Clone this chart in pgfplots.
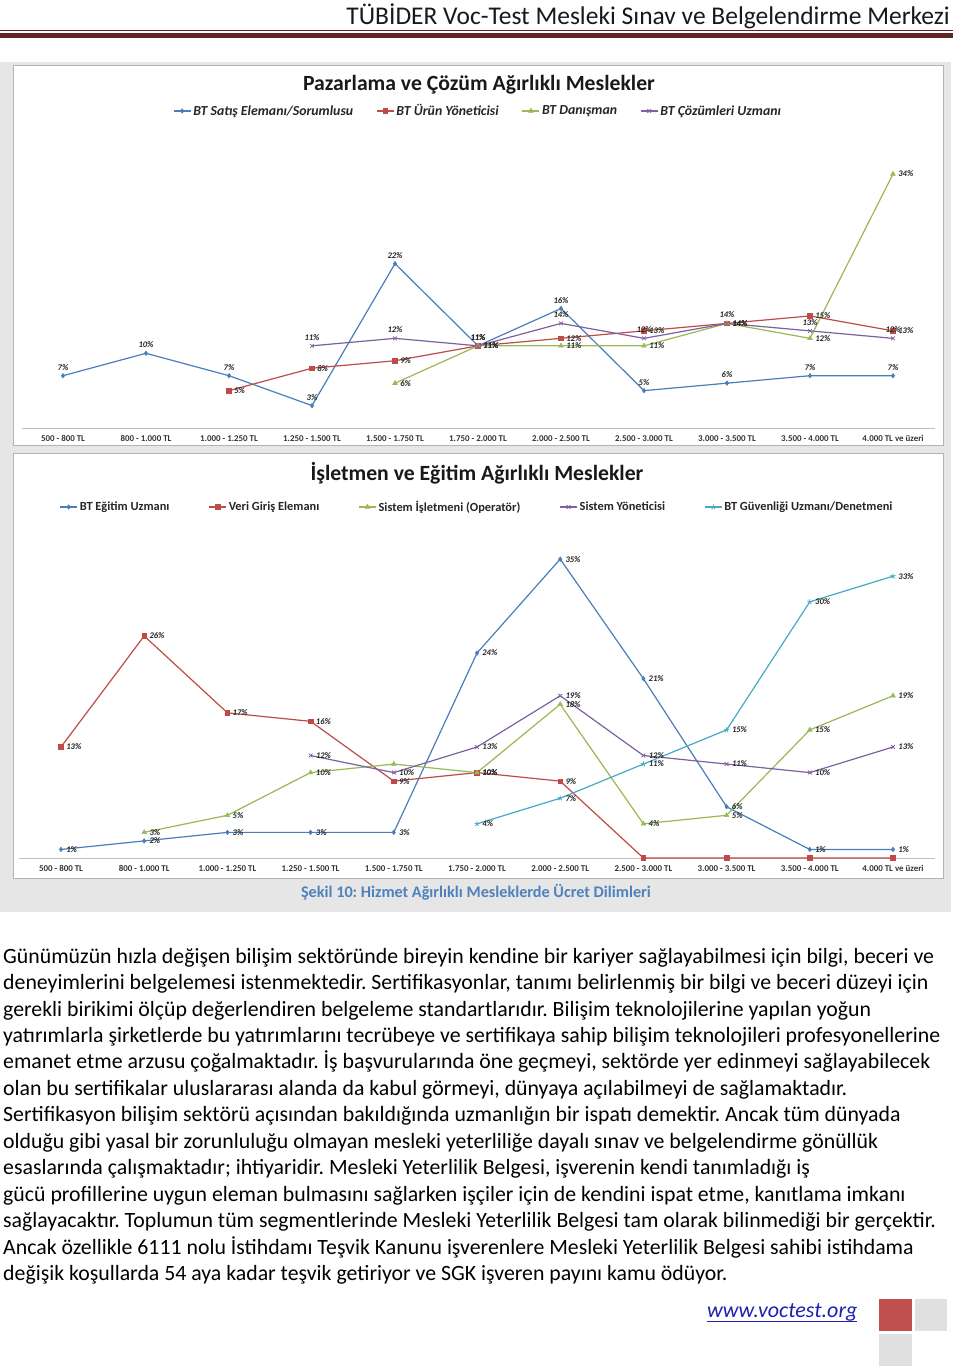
\documentclass[border=0pt]{standalone}
\usepackage{fontspec}
\setmainfont{Carlito}
\usepackage{pgfplots}
\pgfplotsset{compat=1.18}
\frenchspacing
\definecolor{cBlue}{HTML}{4A7EBB}
\definecolor{cRed}{HTML}{BE4B48}
\definecolor{cGreen}{HTML}{98B954}
\definecolor{cPurple}{HTML}{7D60A0}
\definecolor{cCyan}{HTML}{46AAC5}
\definecolor{hdr}{HTML}{632523}
\definecolor{panel}{HTML}{E6E6E6}
\definecolor{framec}{HTML}{B3B3B3}
\definecolor{capblue}{HTML}{4F81BD}
\definecolor{linkc}{HTML}{2020B0}
\definecolor{sqred}{HTML}{C0504D}
\definecolor{sqgray}{HTML}{E0E0E0}
\newcommand\fs[1]{\fontsize{#1}{#1}\selectfont}
\pgfplotsset{
  /pgf/number format/assume math mode=true,
  lblabove/.style={point meta=y, nodes near coords={\pgfmathprintnumber{\pgfplotspointmeta}\%},
    every node near coord/.append style={font=\fs{8.6}\bfseries\itshape, text=black!85, anchor=south, inner sep=1pt, yshift=4pt}},
  lblright/.style={point meta=y, nodes near coords={\pgfmathprintnumber{\pgfplotspointmeta}\%},
    every node near coord/.append style={font=\fs{8.6}\bfseries\itshape, text=black!85, anchor=west, inner sep=1pt, xshift=4pt}},
  lblrightsym/.style={point meta=explicit symbolic, nodes near coords={\pgfplotspointmeta},
    every node near coord/.append style={font=\fs{8.6}\bfseries\itshape, text=black!85, anchor=west, inner sep=1pt, xshift=4pt}},
  sBlue/.style={color=cBlue, line width=1.2pt, mark=diamond*, mark size=2.2pt, mark options={solid, line width=0.6pt}},
  sRed/.style={color=cRed, line width=1.2pt, mark=square*, mark size=2.3pt, mark options={solid, line width=0.6pt}},
  sGreen/.style={color=cGreen, line width=1.2pt, mark=triangle*, mark size=2.6pt, mark options={solid, line width=0.6pt}},
  sPurple/.style={color=cPurple, line width=1.2pt, mark=x, mark size=2.6pt, mark options={solid, line width=0.8pt}},
  sCyan/.style={color=cCyan, line width=1.2pt, mark=star, mark size=2.6pt, mark options={solid, line width=0.8pt}},
  salary/.style={
    anchor=south west, scale only axis, xmin=-0.5, xmax=10.5, ymin=0,
    axis x line*=bottom, axis y line=none,
    x axis line style={-, draw=black!25, line width=0.9pt},
    xtick={0,...,10},
    xticklabels={500 - 800 TL, 800 - 1.000 TL, 1.000 - 1.250 TL, 1.250 - 1.500 TL, 1.500 - 1.750 TL, 1.750 - 2.000 TL, 2.000 - 2.500 TL, 2.500 - 3.000 TL, 3.000 - 3.500 TL, 3.500 - 4.000 TL, 4.000 TL ve üzeri},
    major tick length=0pt,
    xticklabel style={font=\fs{8.9}\bfseries, text=black!80, yshift=-4pt},
    clip=false, legend columns=-1,
  },
}
\begin{document}
\begin{tikzpicture}
\useasboundingbox (0pt,0pt) rectangle (960pt,1369pt);
\begin{scope}[x=1pt,y=-1pt,yshift=1369pt]
  \fill[white] (0,0) rectangle (960,1369);
  \node[anchor=east, inner sep=0, text=black!90] at (950,16) {\fs{25.5}TÜBİDER Voc-Test Mesleki Sınav ve Belgelendirme Merkezi};
  \fill[hdr] (0,30.3) rectangle (953,31.5);
  \fill[hdr] (0,33.3) rectangle (953,38.3);
  \fill[panel] (0,62) rectangle (951,912);
  \filldraw[fill=white, draw=framec, line width=1pt] (13,66) rectangle (943,446);
  \filldraw[fill=white, draw=framec, line width=1pt] (13,454) rectangle (943,879);
  \node[font=\fs{21.7}\bfseries, text=black!90] at (479,85) {Pazarlama ve Çözüm Ağırlıklı Meslekler};
  \node[font=\fs{21.7}\bfseries, text=black!90] at (477,473) {İşletmen ve Eğitim Ağırlıklı Meslekler};
  \node[font=\fs{16.2}\bfseries, text=capblue] at (476,892) {Şekil 10: Hizmet Ağırlıklı Mesleklerde Ücret Dilimleri};
  \begin{scope}[every node/.style={anchor=base west, inner sep=0, font=\fs{21.8}, text=black}]
    \node at (3,964) {Günümüzün hızla değişen bilişim sektöründe bireyin kendine bir kariyer sağlayabilmesi için bilgi, beceri ve};
    \node at (3,990) {deneyimlerini belgelemesi istenmektedir. Sertifikasyonlar, tanımı belirlenmiş bir bilgi ve beceri düzeyi için};
    \node at (3,1017) {gerekli birikimi ölçüp değerlendiren belgeleme standartlarıdır. Bilişim teknolojilerine yapılan yoğun};
    \node at (3,1043) {yatırımlarla şirketlerde bu yatırımlarını tecrübeye ve sertifikaya sahip bilişim teknolojileri profesyonellerine};
    \node at (3,1069) {emanet etme arzusu çoğalmaktadır. İş başvurularında öne geçmeyi, sektörde yer edinmeyi sağlayabilecek};
    \node at (3,1096) {olan bu sertifikalar uluslararası alanda da kabul görmeyi, dünyaya açılabilmeyi de sağlamaktadır.};
    \node at (3,1122) {Sertifikasyon bilişim sektörü açısından bakıldığında uzmanlığın bir ispatı demektir. Ancak tüm dünyada};
    \node at (3,1149) {olduğu gibi yasal bir zorunluluğu olmayan mesleki yeterliliğe dayalı sınav ve belgelendirme gönüllük};
    \node at (3,1175) {esaslarında çalışmaktadır; ihtiyaridir. Mesleki Yeterlilik Belgesi, işverenin kendi tanımladığı iş};
    \node at (3,1202) {gücü profillerine uygun eleman bulmasını sağlarken işçiler için de kendini ispat etme, kanıtlama imkanı};
    \node at (3,1228) {sağlayacaktır. Toplumun tüm segmentlerinde Mesleki Yeterlilik Belgesi tam olarak bilinmediği bir gerçektir.};
    \node at (3,1255) {Ancak özellikle 6111 nolu İstihdamı Teşvik Kanunu işverenlere Mesleki Yeterlilik Belgesi sahibi istihdama};
    \node at (3,1281) {değişik koşullarda 54 aya kadar teşvik getiriyor ve SGK işveren payını kamu ödüyor.};
  \end{scope}
  \node[anchor=base west, inner sep=0, font=\fs{22}\itshape, text=linkc] at (707,1318) {www.voctest.org};
  \draw[linkc, line width=0.9pt] (707,1321) -- (857,1321);
  \fill[sqred] (879,1299) rectangle (912,1331);
  \fill[sqgray] (915,1299) rectangle (947,1331);
  \fill[sqgray] (879,1334) rectangle (912,1366);
\end{scope}

% Chart 1
\begin{axis}[salary,
  at={(21.5pt,941pt)}, width=913pt, height=298.8pt, ymax=40,
  legend style={draw=none, fill=none, at={(0.5,1.061)}, anchor=center,
    font=\fs{13.8}\bfseries\itshape, text=black!85,
    /tikz/every even column/.append style={column sep=21pt}},
]
\addplot[sBlue, lblabove] coordinates {(0,7) (1,10) (2,7) (3,3) (4,22) (5,11) (6,16) (7,5) (8,6) (9,7) (10,7)};
\addlegendentry{BT Satış Elemanı/Sorumlusu}
\addplot[sRed, lblright] coordinates {(2,5) (3,8) (4,9) (5,11) (6,12) (7,13) (8,14) (9,15) (10,13)};
\addlegendentry{BT Ürün Yöneticisi}
\addplot[sGreen, lblright] coordinates {(4,6) (5,11) (6,11) (7,11) (8,14) (9,12) (10,34)};
\addlegendentry{BT Danışman}
\addplot[sPurple, lblabove] coordinates {(3,11) (4,12) (5,11) (6,14) (7,12) (8,14) (9,13) (10,12)};
\addlegendentry{BT Çözümleri Uzmanı}
\end{axis}

% Chart 2
\begin{axis}[salary,
  at={(19.4pt,511pt)}, width=915.2pt, height=324.5pt, ymax=38,
  legend style={draw=none, fill=none, at={(0.5,1.0817)}, anchor=center,
    font=\fs{12.4}\bfseries, text=black!85,
    /tikz/every even column/.append style={column sep=37pt}},
]
\addplot[sBlue, lblright] coordinates {(0,1) (1,2) (2,3) (3,3) (4,3) (5,24) (6,35) (7,21) (8,6) (9,1) (10,1)};
\addlegendentry{BT Eğitim Uzmanı}
\addplot[sRed, lblrightsym] coordinates {(0,13) [13\%] (1,26) [26\%] (2,17) [17\%] (3,16) [16\%] (4,9) [9\%] (5,10) [10\%] (6,9) [9\%] (7,0) [\relax] (8,0) [\relax] (9,0) [\relax] (10,0) [\relax]};
\addlegendentry{Veri Giriş Elemanı}
\addplot[sGreen, lblrightsym] coordinates {(1,3) [3\%] (2,5) [5\%] (3,10) [10\%] (4,11) [\relax] (5,10) [10\%] (6,18) [18\%] (7,4) [4\%] (8,5) [5\%] (9,15) [15\%] (10,19) [19\%]};
\addlegendentry{Sistem İşletmeni (Operatör)}
\addplot[sPurple, lblright] coordinates {(3,12) (4,10) (5,13) (6,19) (7,12) (8,11) (9,10) (10,13)};
\addlegendentry{Sistem Yöneticisi}
\addplot[sCyan, lblright] coordinates {(5,4) (6,7) (7,11) (8,15) (9,30) (10,33)};
\addlegendentry{BT Güvenliği Uzmanı/Denetmeni}
\end{axis}
\end{tikzpicture}
\end{document}
